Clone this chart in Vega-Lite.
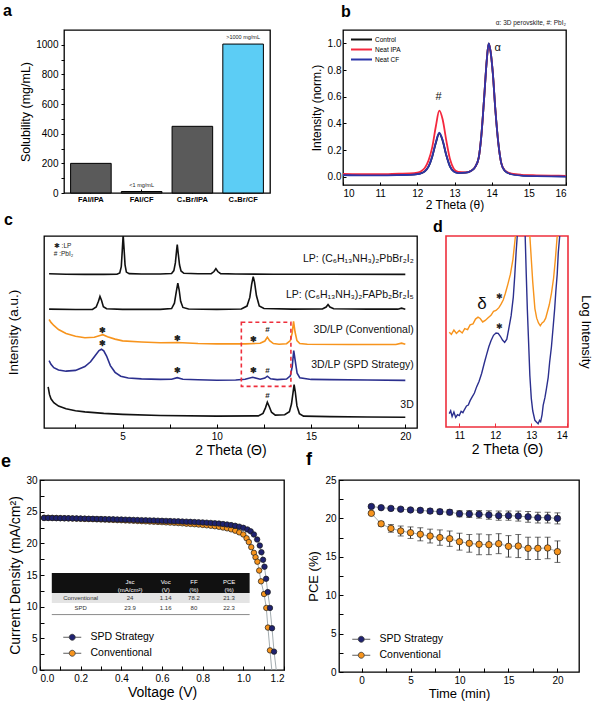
{
"$schema": "https://vega.github.io/schema/vega-lite/v6.json",
"background": "white",
"padding": {"left": 0, "top": 1, "right": 0, "bottom": 0},
"config": {
  "font": "Liberation Sans",
  "view": {"stroke": "#000", "strokeWidth": 1.3},
  "axis": {"domain": false, "grid": false, "tickColor": "#000", "tickSize": 3, "tickWidth": 1, "labelColor": "#000", "titleColor": "#000", "labelFontSize": 10, "titleFontSize": 13, "titleFontWeight": "normal", "labelPadding": 2, "titlePadding": 3, "labelFont": "Liberation Sans", "titleFont": "Liberation Sans", "labelOverlap": false},
  "title": {"fontSize": 16, "fontWeight": "bold", "anchor": "start", "frame": "group", "baseline": "alphabetic", "color": "#000"},
  "legend": {"labelFont": "Liberation Sans", "labelColor": "#000"}
},
"datasets": {
  "sol": [
    {"system": "FAI/IPA", "solubility": 200, "note": ""},
    {"system": "FAI/CF", "solubility": 10, "note": "<1 mg/mL"},
    {"system": "C₆Br/IPA", "solubility": 450, "note": ""},
    {"system": "C₆Br/CF", "solubility": 1005, "note": ">1000 mg/mL"}
  ],
  "xrdB": [
    {"sample": "Control", "theta": 10.0, "intensity": 0.014}, {"sample": "Control", "theta": 10.5, "intensity": 0.013}, {"sample": "Control", "theta": 11.0, "intensity": 0.012}, {"sample": "Control", "theta": 11.5, "intensity": 0.014}, {"sample": "Control", "theta": 11.8, "intensity": 0.016}, {"sample": "Control", "theta": 12.0, "intensity": 0.02}, {"sample": "Control", "theta": 12.1, "intensity": 0.026}, {"sample": "Control", "theta": 12.2, "intensity": 0.04}, {"sample": "Control", "theta": 12.3, "intensity": 0.075}, {"sample": "Control", "theta": 12.4, "intensity": 0.15}, {"sample": "Control", "theta": 12.5, "intensity": 0.255}, {"sample": "Control", "theta": 12.59, "intensity": 0.325}, {"sample": "Control", "theta": 12.68, "intensity": 0.27}, {"sample": "Control", "theta": 12.78, "intensity": 0.16}, {"sample": "Control", "theta": 12.88, "intensity": 0.075}, {"sample": "Control", "theta": 12.98, "intensity": 0.04}, {"sample": "Control", "theta": 13.1, "intensity": 0.028}, {"sample": "Control", "theta": 13.3, "intensity": 0.03}, {"sample": "Control", "theta": 13.45, "intensity": 0.045}, {"sample": "Control", "theta": 13.55, "intensity": 0.07}, {"sample": "Control", "theta": 13.65, "intensity": 0.14}, {"sample": "Control", "theta": 13.72, "intensity": 0.3}, {"sample": "Control", "theta": 13.8, "intensity": 0.6}, {"sample": "Control", "theta": 13.87, "intensity": 0.88}, {"sample": "Control", "theta": 13.92, "intensity": 1.0}, {"sample": "Control", "theta": 13.97, "intensity": 0.94}, {"sample": "Control", "theta": 14.03, "intensity": 0.78}, {"sample": "Control", "theta": 14.1, "intensity": 0.5}, {"sample": "Control", "theta": 14.18, "intensity": 0.25}, {"sample": "Control", "theta": 14.26, "intensity": 0.1}, {"sample": "Control", "theta": 14.35, "intensity": 0.045}, {"sample": "Control", "theta": 14.5, "intensity": 0.022}, {"sample": "Control", "theta": 14.8, "intensity": 0.01}, {"sample": "Control", "theta": 15.2, "intensity": 0.006}, {"sample": "Control", "theta": 15.6, "intensity": 0.004}, {"sample": "Control", "theta": 16.0, "intensity": 0.003},
    {"sample": "Neat IPA", "theta": 10.0, "intensity": 0.02}, {"sample": "Neat IPA", "theta": 10.5, "intensity": 0.019}, {"sample": "Neat IPA", "theta": 11.0, "intensity": 0.018}, {"sample": "Neat IPA", "theta": 11.5, "intensity": 0.022}, {"sample": "Neat IPA", "theta": 11.8, "intensity": 0.024}, {"sample": "Neat IPA", "theta": 12.0, "intensity": 0.03}, {"sample": "Neat IPA", "theta": 12.1, "intensity": 0.04}, {"sample": "Neat IPA", "theta": 12.2, "intensity": 0.065}, {"sample": "Neat IPA", "theta": 12.3, "intensity": 0.12}, {"sample": "Neat IPA", "theta": 12.4, "intensity": 0.22}, {"sample": "Neat IPA", "theta": 12.5, "intensity": 0.38}, {"sample": "Neat IPA", "theta": 12.59, "intensity": 0.495}, {"sample": "Neat IPA", "theta": 12.68, "intensity": 0.43}, {"sample": "Neat IPA", "theta": 12.78, "intensity": 0.27}, {"sample": "Neat IPA", "theta": 12.88, "intensity": 0.13}, {"sample": "Neat IPA", "theta": 12.98, "intensity": 0.06}, {"sample": "Neat IPA", "theta": 13.1, "intensity": 0.035}, {"sample": "Neat IPA", "theta": 13.3, "intensity": 0.032}, {"sample": "Neat IPA", "theta": 13.45, "intensity": 0.045}, {"sample": "Neat IPA", "theta": 13.55, "intensity": 0.07}, {"sample": "Neat IPA", "theta": 13.65, "intensity": 0.14}, {"sample": "Neat IPA", "theta": 13.72, "intensity": 0.3}, {"sample": "Neat IPA", "theta": 13.8, "intensity": 0.6}, {"sample": "Neat IPA", "theta": 13.87, "intensity": 0.88}, {"sample": "Neat IPA", "theta": 13.92, "intensity": 0.995}, {"sample": "Neat IPA", "theta": 13.97, "intensity": 0.94}, {"sample": "Neat IPA", "theta": 14.03, "intensity": 0.78}, {"sample": "Neat IPA", "theta": 14.1, "intensity": 0.5}, {"sample": "Neat IPA", "theta": 14.18, "intensity": 0.25}, {"sample": "Neat IPA", "theta": 14.26, "intensity": 0.1}, {"sample": "Neat IPA", "theta": 14.35, "intensity": 0.048}, {"sample": "Neat IPA", "theta": 14.5, "intensity": 0.025}, {"sample": "Neat IPA", "theta": 14.8, "intensity": 0.014}, {"sample": "Neat IPA", "theta": 15.2, "intensity": 0.01}, {"sample": "Neat IPA", "theta": 15.6, "intensity": 0.008}, {"sample": "Neat IPA", "theta": 16.0, "intensity": 0.006},
    {"sample": "Neat CF", "theta": 10.0, "intensity": 0.011}, {"sample": "Neat CF", "theta": 10.5, "intensity": 0.01}, {"sample": "Neat CF", "theta": 11.0, "intensity": 0.01}, {"sample": "Neat CF", "theta": 11.5, "intensity": 0.012}, {"sample": "Neat CF", "theta": 11.8, "intensity": 0.014}, {"sample": "Neat CF", "theta": 12.0, "intensity": 0.019}, {"sample": "Neat CF", "theta": 12.1, "intensity": 0.025}, {"sample": "Neat CF", "theta": 12.2, "intensity": 0.04}, {"sample": "Neat CF", "theta": 12.3, "intensity": 0.075}, {"sample": "Neat CF", "theta": 12.4, "intensity": 0.15}, {"sample": "Neat CF", "theta": 12.5, "intensity": 0.26}, {"sample": "Neat CF", "theta": 12.59, "intensity": 0.33}, {"sample": "Neat CF", "theta": 12.68, "intensity": 0.275}, {"sample": "Neat CF", "theta": 12.78, "intensity": 0.16}, {"sample": "Neat CF", "theta": 12.88, "intensity": 0.075}, {"sample": "Neat CF", "theta": 12.98, "intensity": 0.038}, {"sample": "Neat CF", "theta": 13.1, "intensity": 0.027}, {"sample": "Neat CF", "theta": 13.3, "intensity": 0.03}, {"sample": "Neat CF", "theta": 13.45, "intensity": 0.045}, {"sample": "Neat CF", "theta": 13.55, "intensity": 0.07}, {"sample": "Neat CF", "theta": 13.65, "intensity": 0.14}, {"sample": "Neat CF", "theta": 13.72, "intensity": 0.3}, {"sample": "Neat CF", "theta": 13.8, "intensity": 0.6}, {"sample": "Neat CF", "theta": 13.87, "intensity": 0.88}, {"sample": "Neat CF", "theta": 13.92, "intensity": 1.0}, {"sample": "Neat CF", "theta": 13.97, "intensity": 0.94}, {"sample": "Neat CF", "theta": 14.03, "intensity": 0.78}, {"sample": "Neat CF", "theta": 14.1, "intensity": 0.5}, {"sample": "Neat CF", "theta": 14.18, "intensity": 0.25}, {"sample": "Neat CF", "theta": 14.26, "intensity": 0.1}, {"sample": "Neat CF", "theta": 14.35, "intensity": 0.045}, {"sample": "Neat CF", "theta": 14.5, "intensity": 0.02}, {"sample": "Neat CF", "theta": 14.8, "intensity": 0.008}, {"sample": "Neat CF", "theta": 15.2, "intensity": 0.004}, {"sample": "Neat CF", "theta": 15.6, "intensity": 0.002}, {"sample": "Neat CF", "theta": 16.0, "intensity": 0.001}
  ],
  "annB": [
    {"theta": 12.57, "intensity": 0.6, "mark": "#"},
    {"theta": 14.16, "intensity": 0.963, "mark": "α"}
  ],
  "xrdC": [
    {"pattern": "LP1", "theta": 1.1, "intensity": 80.3}, {"pattern": "LP1", "theta": 2.0, "intensity": 80.1}, {"pattern": "LP1", "theta": 3.0, "intensity": 80.0}, {"pattern": "LP1", "theta": 4.0, "intensity": 80.0}, {"pattern": "LP1", "theta": 4.7, "intensity": 80.1}, {"pattern": "LP1", "theta": 4.85, "intensity": 80.8}, {"pattern": "LP1", "theta": 4.93, "intensity": 84}, {"pattern": "LP1", "theta": 4.98, "intensity": 92}, {"pattern": "LP1", "theta": 5.03, "intensity": 100.5}, {"pattern": "LP1", "theta": 5.08, "intensity": 93}, {"pattern": "LP1", "theta": 5.13, "intensity": 85}, {"pattern": "LP1", "theta": 5.2, "intensity": 81.2}, {"pattern": "LP1", "theta": 5.35, "intensity": 80.4}, {"pattern": "LP1", "theta": 6.0, "intensity": 80.2}, {"pattern": "LP1", "theta": 7.0, "intensity": 80.2}, {"pattern": "LP1", "theta": 7.6, "intensity": 80.5}, {"pattern": "LP1", "theta": 7.72, "intensity": 82}, {"pattern": "LP1", "theta": 7.8, "intensity": 86}, {"pattern": "LP1", "theta": 7.86, "intensity": 92}, {"pattern": "LP1", "theta": 7.9, "intensity": 95.5}, {"pattern": "LP1", "theta": 7.95, "intensity": 91}, {"pattern": "LP1", "theta": 8.02, "intensity": 85}, {"pattern": "LP1", "theta": 8.1, "intensity": 81.8}, {"pattern": "LP1", "theta": 8.25, "intensity": 80.6}, {"pattern": "LP1", "theta": 9.0, "intensity": 80.3}, {"pattern": "LP1", "theta": 9.7, "intensity": 80.4}, {"pattern": "LP1", "theta": 9.85, "intensity": 81.5}, {"pattern": "LP1", "theta": 9.95, "intensity": 83}, {"pattern": "LP1", "theta": 10.05, "intensity": 81.5}, {"pattern": "LP1", "theta": 10.2, "intensity": 80.4}, {"pattern": "LP1", "theta": 11.0, "intensity": 80.2}, {"pattern": "LP1", "theta": 13.0, "intensity": 80.1}, {"pattern": "LP1", "theta": 16.0, "intensity": 80.1}, {"pattern": "LP1", "theta": 20.0, "intensity": 80.0},
    {"pattern": "LP2", "theta": 1.1, "intensity": 61.9}, {"pattern": "LP2", "theta": 2.5, "intensity": 61.7}, {"pattern": "LP2", "theta": 3.4, "intensity": 61.8}, {"pattern": "LP2", "theta": 3.6, "intensity": 63}, {"pattern": "LP2", "theta": 3.72, "intensity": 66}, {"pattern": "LP2", "theta": 3.8, "intensity": 68.5}, {"pattern": "LP2", "theta": 3.88, "intensity": 66.5}, {"pattern": "LP2", "theta": 3.98, "intensity": 63.2}, {"pattern": "LP2", "theta": 4.15, "intensity": 62.1}, {"pattern": "LP2", "theta": 5.0, "intensity": 61.8}, {"pattern": "LP2", "theta": 7.0, "intensity": 61.8}, {"pattern": "LP2", "theta": 7.6, "intensity": 62.2}, {"pattern": "LP2", "theta": 7.75, "intensity": 65}, {"pattern": "LP2", "theta": 7.85, "intensity": 71}, {"pattern": "LP2", "theta": 7.93, "intensity": 75.5}, {"pattern": "LP2", "theta": 8.0, "intensity": 72}, {"pattern": "LP2", "theta": 8.08, "intensity": 66}, {"pattern": "LP2", "theta": 8.2, "intensity": 62.8}, {"pattern": "LP2", "theta": 8.5, "intensity": 62}, {"pattern": "LP2", "theta": 10.0, "intensity": 61.8}, {"pattern": "LP2", "theta": 11.3, "intensity": 62}, {"pattern": "LP2", "theta": 11.6, "intensity": 63.5}, {"pattern": "LP2", "theta": 11.75, "intensity": 68}, {"pattern": "LP2", "theta": 11.85, "intensity": 75}, {"pattern": "LP2", "theta": 11.93, "intensity": 78.8}, {"pattern": "LP2", "theta": 12.0, "intensity": 76}, {"pattern": "LP2", "theta": 12.1, "intensity": 69}, {"pattern": "LP2", "theta": 12.25, "intensity": 63.5}, {"pattern": "LP2", "theta": 12.5, "intensity": 62.2}, {"pattern": "LP2", "theta": 14.0, "intensity": 61.9}, {"pattern": "LP2", "theta": 15.6, "intensity": 62}, {"pattern": "LP2", "theta": 15.8, "intensity": 63}, {"pattern": "LP2", "theta": 15.9, "intensity": 64.3}, {"pattern": "LP2", "theta": 16.0, "intensity": 63}, {"pattern": "LP2", "theta": 16.2, "intensity": 62.1}, {"pattern": "LP2", "theta": 18.0, "intensity": 61.9}, {"pattern": "LP2", "theta": 19.6, "intensity": 61.9}, {"pattern": "LP2", "theta": 19.8, "intensity": 62.4}, {"pattern": "LP2", "theta": 20.0, "intensity": 61.9},
    {"pattern": "Conventional", "theta": 1.1, "intensity": 56.5}, {"pattern": "Conventional", "theta": 1.2, "intensity": 55}, {"pattern": "Conventional", "theta": 1.35, "intensity": 53.4}, {"pattern": "Conventional", "theta": 1.6, "intensity": 51.3}, {"pattern": "Conventional", "theta": 2.0, "intensity": 49.2}, {"pattern": "Conventional", "theta": 2.5, "intensity": 47.8}, {"pattern": "Conventional", "theta": 3.0, "intensity": 47.0}, {"pattern": "Conventional", "theta": 3.5, "intensity": 47.3}, {"pattern": "Conventional", "theta": 3.8, "intensity": 48.2}, {"pattern": "Conventional", "theta": 3.95, "intensity": 48.6}, {"pattern": "Conventional", "theta": 4.2, "intensity": 47.5}, {"pattern": "Conventional", "theta": 4.6, "intensity": 46.3}, {"pattern": "Conventional", "theta": 5.0, "intensity": 45.4}, {"pattern": "Conventional", "theta": 6.0, "intensity": 44.8}, {"pattern": "Conventional", "theta": 7.0, "intensity": 44.4}, {"pattern": "Conventional", "theta": 7.9, "intensity": 44.5}, {"pattern": "Conventional", "theta": 9.0, "intensity": 44.0}, {"pattern": "Conventional", "theta": 10.0, "intensity": 43.8}, {"pattern": "Conventional", "theta": 11.5, "intensity": 43.8}, {"pattern": "Conventional", "theta": 12.3, "intensity": 44.1}, {"pattern": "Conventional", "theta": 12.55, "intensity": 45.3}, {"pattern": "Conventional", "theta": 12.68, "intensity": 47.3}, {"pattern": "Conventional", "theta": 12.8, "intensity": 45.5}, {"pattern": "Conventional", "theta": 13.0, "intensity": 44.0}, {"pattern": "Conventional", "theta": 13.3, "intensity": 43.6}, {"pattern": "Conventional", "theta": 13.7, "intensity": 43.9}, {"pattern": "Conventional", "theta": 13.9, "intensity": 45.5}, {"pattern": "Conventional", "theta": 14.0, "intensity": 49.5}, {"pattern": "Conventional", "theta": 14.07, "intensity": 55.5}, {"pattern": "Conventional", "theta": 14.15, "intensity": 50}, {"pattern": "Conventional", "theta": 14.25, "intensity": 45.5}, {"pattern": "Conventional", "theta": 14.4, "intensity": 44}, {"pattern": "Conventional", "theta": 14.8, "intensity": 43.6}, {"pattern": "Conventional", "theta": 17.0, "intensity": 43.5}, {"pattern": "Conventional", "theta": 19.5, "intensity": 43.5}, {"pattern": "Conventional", "theta": 19.8, "intensity": 44.2}, {"pattern": "Conventional", "theta": 20.0, "intensity": 43.6},
    {"pattern": "SPD", "theta": 1.1, "intensity": 35.1}, {"pattern": "SPD", "theta": 1.2, "intensity": 33.2}, {"pattern": "SPD", "theta": 1.35, "intensity": 31.4}, {"pattern": "SPD", "theta": 1.6, "intensity": 30.2}, {"pattern": "SPD", "theta": 2.0, "intensity": 29.6}, {"pattern": "SPD", "theta": 2.5, "intensity": 30.0}, {"pattern": "SPD", "theta": 3.0, "intensity": 32.0}, {"pattern": "SPD", "theta": 3.3, "intensity": 34.5}, {"pattern": "SPD", "theta": 3.55, "intensity": 37.8}, {"pattern": "SPD", "theta": 3.75, "intensity": 40.3}, {"pattern": "SPD", "theta": 3.88, "intensity": 41.0}, {"pattern": "SPD", "theta": 4.0, "intensity": 40.2}, {"pattern": "SPD", "theta": 4.15, "intensity": 37.5}, {"pattern": "SPD", "theta": 4.35, "intensity": 32.5}, {"pattern": "SPD", "theta": 4.6, "intensity": 29.0}, {"pattern": "SPD", "theta": 4.9, "intensity": 27.0}, {"pattern": "SPD", "theta": 5.3, "intensity": 26.0}, {"pattern": "SPD", "theta": 6.0, "intensity": 25.6}, {"pattern": "SPD", "theta": 7.0, "intensity": 25.3}, {"pattern": "SPD", "theta": 7.6, "intensity": 25.4}, {"pattern": "SPD", "theta": 7.9, "intensity": 26.2}, {"pattern": "SPD", "theta": 8.2, "intensity": 25.4}, {"pattern": "SPD", "theta": 9.0, "intensity": 25.1}, {"pattern": "SPD", "theta": 10.0, "intensity": 24.9}, {"pattern": "SPD", "theta": 11.0, "intensity": 25.0}, {"pattern": "SPD", "theta": 11.5, "intensity": 25.4}, {"pattern": "SPD", "theta": 11.9, "intensity": 26.4}, {"pattern": "SPD", "theta": 12.3, "intensity": 25.4}, {"pattern": "SPD", "theta": 12.55, "intensity": 26.0}, {"pattern": "SPD", "theta": 12.68, "intensity": 27.0}, {"pattern": "SPD", "theta": 12.85, "intensity": 25.6}, {"pattern": "SPD", "theta": 13.2, "intensity": 25.2}, {"pattern": "SPD", "theta": 13.7, "intensity": 25.5}, {"pattern": "SPD", "theta": 13.9, "intensity": 27.2}, {"pattern": "SPD", "theta": 14.0, "intensity": 32}, {"pattern": "SPD", "theta": 14.08, "intensity": 40.3}, {"pattern": "SPD", "theta": 14.16, "intensity": 35}, {"pattern": "SPD", "theta": 14.26, "intensity": 28.5}, {"pattern": "SPD", "theta": 14.4, "intensity": 26.2}, {"pattern": "SPD", "theta": 15.0, "intensity": 25.3}, {"pattern": "SPD", "theta": 16.0, "intensity": 25.2}, {"pattern": "SPD", "theta": 18.0, "intensity": 25.0}, {"pattern": "SPD", "theta": 20.0, "intensity": 24.8},
    {"pattern": "3D", "theta": 1.05, "intensity": 21.4}, {"pattern": "3D", "theta": 1.12, "intensity": 17.5}, {"pattern": "3D", "theta": 1.2, "intensity": 15.2}, {"pattern": "3D", "theta": 1.35, "intensity": 13.2}, {"pattern": "3D", "theta": 1.6, "intensity": 11.4}, {"pattern": "3D", "theta": 2.0, "intensity": 10.0}, {"pattern": "3D", "theta": 2.5, "intensity": 9.0}, {"pattern": "3D", "theta": 3.0, "intensity": 8.4}, {"pattern": "3D", "theta": 4.0, "intensity": 7.6}, {"pattern": "3D", "theta": 5.0, "intensity": 7.1}, {"pattern": "3D", "theta": 7.0, "intensity": 6.5}, {"pattern": "3D", "theta": 10.0, "intensity": 6.2}, {"pattern": "3D", "theta": 12.2, "intensity": 6.3}, {"pattern": "3D", "theta": 12.45, "intensity": 7.6}, {"pattern": "3D", "theta": 12.58, "intensity": 10.5}, {"pattern": "3D", "theta": 12.68, "intensity": 13.4}, {"pattern": "3D", "theta": 12.78, "intensity": 11.2}, {"pattern": "3D", "theta": 12.9, "intensity": 8.2}, {"pattern": "3D", "theta": 13.1, "intensity": 6.7}, {"pattern": "3D", "theta": 13.6, "intensity": 6.9}, {"pattern": "3D", "theta": 13.85, "intensity": 8.5}, {"pattern": "3D", "theta": 13.96, "intensity": 12.5}, {"pattern": "3D", "theta": 14.05, "intensity": 19}, {"pattern": "3D", "theta": 14.1, "intensity": 22.6}, {"pattern": "3D", "theta": 14.16, "intensity": 19}, {"pattern": "3D", "theta": 14.25, "intensity": 11.5}, {"pattern": "3D", "theta": 14.38, "intensity": 7.5}, {"pattern": "3D", "theta": 14.6, "intensity": 6.2}, {"pattern": "3D", "theta": 16.0, "intensity": 5.9}, {"pattern": "3D", "theta": 18.0, "intensity": 5.7}, {"pattern": "3D", "theta": 20.0, "intensity": 5.6}
  ],
  "peaksC": [
    {"theta": 3.94, "intensity": 50.4, "mark": "✱"}, {"theta": 7.93, "intensity": 46.4, "mark": "✱"}, {"theta": 11.93, "intensity": 45.6, "mark": "✱"}, {"theta": 12.68, "intensity": 51, "mark": "#"},
    {"theta": 3.94, "intensity": 43.5, "mark": "✱"}, {"theta": 7.93, "intensity": 29.9, "mark": "✱"}, {"theta": 11.93, "intensity": 29.6, "mark": "✱"}, {"theta": 12.68, "intensity": 29.6, "mark": "#"},
    {"theta": 12.68, "intensity": 16.9, "mark": "#"}
  ],
  "labelsC": [
    {"label": "LP: (C₆H₁₃NH₃)₂PbBr₂I₂", "intensity": 87.8},
    {"label": "LP: (C₆H₁₃NH₃)₂FAPb₂Br₂I₅", "intensity": 69.2},
    {"label": "3D/LP (Conventional)", "intensity": 51.3},
    {"label": "3D/LP (SPD Strategy)", "intensity": 33},
    {"label": "3D", "intensity": 12.2}
  ],
  "xrdD": [
    {"pattern": "Conventional", "theta": 10.72, "intensity": 49.6}, {"pattern": "Conventional", "theta": 10.78, "intensity": 48.5}, {"pattern": "Conventional", "theta": 10.85, "intensity": 50.8}, {"pattern": "Conventional", "theta": 10.92, "intensity": 49.0}, {"pattern": "Conventional", "theta": 11.0, "intensity": 50.5}, {"pattern": "Conventional", "theta": 11.08, "intensity": 49.2}, {"pattern": "Conventional", "theta": 11.15, "intensity": 51.5}, {"pattern": "Conventional", "theta": 11.23, "intensity": 51.0}, {"pattern": "Conventional", "theta": 11.3, "intensity": 53.5}, {"pattern": "Conventional", "theta": 11.38, "intensity": 54.0}, {"pattern": "Conventional", "theta": 11.45, "intensity": 56.5}, {"pattern": "Conventional", "theta": 11.52, "intensity": 57.5}, {"pattern": "Conventional", "theta": 11.58, "intensity": 56.8}, {"pattern": "Conventional", "theta": 11.65, "intensity": 55.0}, {"pattern": "Conventional", "theta": 11.72, "intensity": 55.8}, {"pattern": "Conventional", "theta": 11.8, "intensity": 57.2}, {"pattern": "Conventional", "theta": 11.88, "intensity": 58.5}, {"pattern": "Conventional", "theta": 11.95, "intensity": 60.5}, {"pattern": "Conventional", "theta": 12.02, "intensity": 61.0}, {"pattern": "Conventional", "theta": 12.1, "intensity": 62.5}, {"pattern": "Conventional", "theta": 12.16, "intensity": 64.3}, {"pattern": "Conventional", "theta": 12.22, "intensity": 66.5}, {"pattern": "Conventional", "theta": 12.28, "intensity": 70}, {"pattern": "Conventional", "theta": 12.35, "intensity": 74.8}, {"pattern": "Conventional", "theta": 12.42, "intensity": 80}, {"pattern": "Conventional", "theta": 12.49, "intensity": 87.8}, {"pattern": "Conventional", "theta": 12.56, "intensity": 100}, {"pattern": "Conventional", "theta": 12.6, "intensity": 110}, {"pattern": "Conventional", "theta": 12.9, "intensity": 110}, {"pattern": "Conventional", "theta": 12.96, "intensity": 100}, {"pattern": "Conventional", "theta": 13.0, "intensity": 88}, {"pattern": "Conventional", "theta": 13.04, "intensity": 76}, {"pattern": "Conventional", "theta": 13.1, "intensity": 62}, {"pattern": "Conventional", "theta": 13.15, "intensity": 57}, {"pattern": "Conventional", "theta": 13.2, "intensity": 54.5}, {"pattern": "Conventional", "theta": 13.25, "intensity": 53}, {"pattern": "Conventional", "theta": 13.3, "intensity": 54.5}, {"pattern": "Conventional", "theta": 13.35, "intensity": 55.2}, {"pattern": "Conventional", "theta": 13.4, "intensity": 57}, {"pattern": "Conventional", "theta": 13.45, "intensity": 60.5}, {"pattern": "Conventional", "theta": 13.5, "intensity": 64}, {"pattern": "Conventional", "theta": 13.56, "intensity": 70}, {"pattern": "Conventional", "theta": 13.62, "intensity": 78}, {"pattern": "Conventional", "theta": 13.67, "intensity": 88}, {"pattern": "Conventional", "theta": 13.72, "intensity": 100}, {"pattern": "Conventional", "theta": 13.75, "intensity": 110},
    {"pattern": "SPD", "theta": 10.72, "intensity": 7.0}, {"pattern": "SPD", "theta": 10.76, "intensity": 8.5}, {"pattern": "SPD", "theta": 10.8, "intensity": 5.5}, {"pattern": "SPD", "theta": 10.85, "intensity": 7.8}, {"pattern": "SPD", "theta": 10.9, "intensity": 5.0}, {"pattern": "SPD", "theta": 10.95, "intensity": 6.5}, {"pattern": "SPD", "theta": 11.0, "intensity": 6.0}, {"pattern": "SPD", "theta": 11.05, "intensity": 8.2}, {"pattern": "SPD", "theta": 11.1, "intensity": 7.5}, {"pattern": "SPD", "theta": 11.14, "intensity": 9.0}, {"pattern": "SPD", "theta": 11.2, "intensity": 11.0}, {"pattern": "SPD", "theta": 11.25, "intensity": 11.5}, {"pattern": "SPD", "theta": 11.3, "intensity": 13.8}, {"pattern": "SPD", "theta": 11.35, "intensity": 15.5}, {"pattern": "SPD", "theta": 11.42, "intensity": 17.8}, {"pattern": "SPD", "theta": 11.48, "intensity": 21}, {"pattern": "SPD", "theta": 11.55, "intensity": 24}, {"pattern": "SPD", "theta": 11.62, "intensity": 28}, {"pattern": "SPD", "theta": 11.7, "intensity": 33.9}, {"pattern": "SPD", "theta": 11.76, "intensity": 38}, {"pattern": "SPD", "theta": 11.82, "intensity": 42}, {"pattern": "SPD", "theta": 11.88, "intensity": 45.2}, {"pattern": "SPD", "theta": 11.95, "intensity": 48}, {"pattern": "SPD", "theta": 12.02, "intensity": 49.2}, {"pattern": "SPD", "theta": 12.08, "intensity": 49}, {"pattern": "SPD", "theta": 12.14, "intensity": 47.5}, {"pattern": "SPD", "theta": 12.2, "intensity": 45.5}, {"pattern": "SPD", "theta": 12.26, "intensity": 44.3}, {"pattern": "SPD", "theta": 12.32, "intensity": 46}, {"pattern": "SPD", "theta": 12.38, "intensity": 52}, {"pattern": "SPD", "theta": 12.44, "intensity": 58.3}, {"pattern": "SPD", "theta": 12.5, "intensity": 68}, {"pattern": "SPD", "theta": 12.54, "intensity": 79.1}, {"pattern": "SPD", "theta": 12.58, "intensity": 92}, {"pattern": "SPD", "theta": 12.61, "intensity": 100}, {"pattern": "SPD", "theta": 12.65, "intensity": 110}, {"pattern": "SPD", "theta": 12.8, "intensity": 110}, {"pattern": "SPD", "theta": 12.83, "intensity": 100}, {"pattern": "SPD", "theta": 12.86, "intensity": 80}, {"pattern": "SPD", "theta": 12.89, "intensity": 61.7}, {"pattern": "SPD", "theta": 12.93, "intensity": 42}, {"pattern": "SPD", "theta": 12.96, "intensity": 27}, {"pattern": "SPD", "theta": 13.0, "intensity": 15}, {"pattern": "SPD", "theta": 13.04, "intensity": 8.5}, {"pattern": "SPD", "theta": 13.1, "intensity": 3.5}, {"pattern": "SPD", "theta": 13.15, "intensity": 2.5}, {"pattern": "SPD", "theta": 13.19, "intensity": 1.7}, {"pattern": "SPD", "theta": 13.23, "intensity": 3.5}, {"pattern": "SPD", "theta": 13.26, "intensity": 2.8}, {"pattern": "SPD", "theta": 13.3, "intensity": 6.5}, {"pattern": "SPD", "theta": 13.33, "intensity": 11.3}, {"pattern": "SPD", "theta": 13.38, "intensity": 15.5}, {"pattern": "SPD", "theta": 13.42, "intensity": 20}, {"pattern": "SPD", "theta": 13.47, "intensity": 26}, {"pattern": "SPD", "theta": 13.51, "intensity": 33.9}, {"pattern": "SPD", "theta": 13.56, "intensity": 42}, {"pattern": "SPD", "theta": 13.61, "intensity": 53}, {"pattern": "SPD", "theta": 13.65, "intensity": 62}, {"pattern": "SPD", "theta": 13.68, "intensity": 70.4}, {"pattern": "SPD", "theta": 13.72, "intensity": 80}, {"pattern": "SPD", "theta": 13.75, "intensity": 91.3}, {"pattern": "SPD", "theta": 13.79, "intensity": 100}, {"pattern": "SPD", "theta": 13.82, "intensity": 110}
  ],
  "annD": [
    {"theta": 11.63, "intensity": 64.4, "mark": "δ"},
    {"theta": 12.12, "intensity": 68.3, "mark": "✱"},
    {"theta": 12.12, "intensity": 52.2, "mark": "✱"}
  ],
  "jv": [
    {"device": "Conventional", "voltage": 0.02, "current": 24.05}, {"device": "Conventional", "voltage": 0.04, "current": 24.04}, {"device": "Conventional", "voltage": 0.06, "current": 24.02}, {"device": "Conventional", "voltage": 0.08, "current": 24.0}, {"device": "Conventional", "voltage": 0.1, "current": 23.98}, {"device": "Conventional", "voltage": 0.12, "current": 23.96}, {"device": "Conventional", "voltage": 0.14, "current": 23.94}, {"device": "Conventional", "voltage": 0.16, "current": 23.92}, {"device": "Conventional", "voltage": 0.18, "current": 23.9}, {"device": "Conventional", "voltage": 0.2, "current": 23.88}, {"device": "Conventional", "voltage": 0.22, "current": 23.86}, {"device": "Conventional", "voltage": 0.24, "current": 23.84}, {"device": "Conventional", "voltage": 0.26, "current": 23.82}, {"device": "Conventional", "voltage": 0.28, "current": 23.79}, {"device": "Conventional", "voltage": 0.3, "current": 23.77}, {"device": "Conventional", "voltage": 0.32, "current": 23.75}, {"device": "Conventional", "voltage": 0.34, "current": 23.72}, {"device": "Conventional", "voltage": 0.36, "current": 23.7}, {"device": "Conventional", "voltage": 0.38, "current": 23.67}, {"device": "Conventional", "voltage": 0.4, "current": 23.65}, {"device": "Conventional", "voltage": 0.42, "current": 23.62}, {"device": "Conventional", "voltage": 0.44, "current": 23.59}, {"device": "Conventional", "voltage": 0.46, "current": 23.56}, {"device": "Conventional", "voltage": 0.48, "current": 23.53}, {"device": "Conventional", "voltage": 0.5, "current": 23.5}, {"device": "Conventional", "voltage": 0.52, "current": 23.47}, {"device": "Conventional", "voltage": 0.54, "current": 23.44}, {"device": "Conventional", "voltage": 0.56, "current": 23.41}, {"device": "Conventional", "voltage": 0.58, "current": 23.38}, {"device": "Conventional", "voltage": 0.6, "current": 23.35}, {"device": "Conventional", "voltage": 0.62, "current": 23.31}, {"device": "Conventional", "voltage": 0.64, "current": 23.28}, {"device": "Conventional", "voltage": 0.66, "current": 23.24}, {"device": "Conventional", "voltage": 0.68, "current": 23.2}, {"device": "Conventional", "voltage": 0.7, "current": 23.16}, {"device": "Conventional", "voltage": 0.72, "current": 23.11}, {"device": "Conventional", "voltage": 0.74, "current": 23.07}, {"device": "Conventional", "voltage": 0.76, "current": 23.02}, {"device": "Conventional", "voltage": 0.78, "current": 22.97}, {"device": "Conventional", "voltage": 0.8, "current": 22.91}, {"device": "Conventional", "voltage": 0.82, "current": 22.85}, {"device": "Conventional", "voltage": 0.84, "current": 22.78}, {"device": "Conventional", "voltage": 0.86, "current": 22.7}, {"device": "Conventional", "voltage": 0.88, "current": 22.61}, {"device": "Conventional", "voltage": 0.9, "current": 22.5}, {"device": "Conventional", "voltage": 0.92, "current": 22.37}, {"device": "Conventional", "voltage": 0.94, "current": 22.21}, {"device": "Conventional", "voltage": 0.96, "current": 22.0}, {"device": "Conventional", "voltage": 0.98, "current": 21.73}, {"device": "Conventional", "voltage": 1.0, "current": 21.4}, {"device": "Conventional", "voltage": 1.016, "current": 20.8}, {"device": "Conventional", "voltage": 1.027, "current": 20.2}, {"device": "Conventional", "voltage": 1.039, "current": 19.4}, {"device": "Conventional", "voltage": 1.052, "current": 18.5}, {"device": "Conventional", "voltage": 1.06, "current": 17.8}, {"device": "Conventional", "voltage": 1.069, "current": 17.1}, {"device": "Conventional", "voltage": 1.078, "current": 15.7}, {"device": "Conventional", "voltage": 1.087, "current": 14.0}, {"device": "Conventional", "voltage": 1.102, "current": 12.0}, {"device": "Conventional", "voltage": 1.113, "current": 9.8}, {"device": "Conventional", "voltage": 1.121, "current": 6.7}, {"device": "Conventional", "voltage": 1.131, "current": 3.1}, {"device": "Conventional", "voltage": 1.14, "current": 0},
    {"device": "SPD Strategy", "voltage": 0.02, "current": 24.0}, {"device": "SPD Strategy", "voltage": 0.04, "current": 24.0}, {"device": "SPD Strategy", "voltage": 0.06, "current": 23.99}, {"device": "SPD Strategy", "voltage": 0.08, "current": 23.98}, {"device": "SPD Strategy", "voltage": 0.1, "current": 23.97}, {"device": "SPD Strategy", "voltage": 0.12, "current": 23.96}, {"device": "SPD Strategy", "voltage": 0.14, "current": 23.95}, {"device": "SPD Strategy", "voltage": 0.16, "current": 23.94}, {"device": "SPD Strategy", "voltage": 0.18, "current": 23.93}, {"device": "SPD Strategy", "voltage": 0.2, "current": 23.91}, {"device": "SPD Strategy", "voltage": 0.22, "current": 23.9}, {"device": "SPD Strategy", "voltage": 0.24, "current": 23.88}, {"device": "SPD Strategy", "voltage": 0.26, "current": 23.87}, {"device": "SPD Strategy", "voltage": 0.28, "current": 23.85}, {"device": "SPD Strategy", "voltage": 0.3, "current": 23.84}, {"device": "SPD Strategy", "voltage": 0.32, "current": 23.82}, {"device": "SPD Strategy", "voltage": 0.34, "current": 23.81}, {"device": "SPD Strategy", "voltage": 0.36, "current": 23.79}, {"device": "SPD Strategy", "voltage": 0.38, "current": 23.77}, {"device": "SPD Strategy", "voltage": 0.4, "current": 23.76}, {"device": "SPD Strategy", "voltage": 0.42, "current": 23.74}, {"device": "SPD Strategy", "voltage": 0.44, "current": 23.72}, {"device": "SPD Strategy", "voltage": 0.46, "current": 23.7}, {"device": "SPD Strategy", "voltage": 0.48, "current": 23.68}, {"device": "SPD Strategy", "voltage": 0.5, "current": 23.66}, {"device": "SPD Strategy", "voltage": 0.52, "current": 23.64}, {"device": "SPD Strategy", "voltage": 0.54, "current": 23.62}, {"device": "SPD Strategy", "voltage": 0.56, "current": 23.6}, {"device": "SPD Strategy", "voltage": 0.58, "current": 23.58}, {"device": "SPD Strategy", "voltage": 0.6, "current": 23.56}, {"device": "SPD Strategy", "voltage": 0.62, "current": 23.54}, {"device": "SPD Strategy", "voltage": 0.64, "current": 23.52}, {"device": "SPD Strategy", "voltage": 0.66, "current": 23.49}, {"device": "SPD Strategy", "voltage": 0.68, "current": 23.47}, {"device": "SPD Strategy", "voltage": 0.7, "current": 23.44}, {"device": "SPD Strategy", "voltage": 0.72, "current": 23.42}, {"device": "SPD Strategy", "voltage": 0.74, "current": 23.39}, {"device": "SPD Strategy", "voltage": 0.76, "current": 23.36}, {"device": "SPD Strategy", "voltage": 0.78, "current": 23.33}, {"device": "SPD Strategy", "voltage": 0.8, "current": 23.3}, {"device": "SPD Strategy", "voltage": 0.82, "current": 23.26}, {"device": "SPD Strategy", "voltage": 0.84, "current": 23.22}, {"device": "SPD Strategy", "voltage": 0.86, "current": 23.17}, {"device": "SPD Strategy", "voltage": 0.88, "current": 23.12}, {"device": "SPD Strategy", "voltage": 0.9, "current": 23.05}, {"device": "SPD Strategy", "voltage": 0.92, "current": 22.97}, {"device": "SPD Strategy", "voltage": 0.94, "current": 22.88}, {"device": "SPD Strategy", "voltage": 0.96, "current": 22.77}, {"device": "SPD Strategy", "voltage": 0.98, "current": 22.63}, {"device": "SPD Strategy", "voltage": 1.0, "current": 22.45}, {"device": "SPD Strategy", "voltage": 1.02, "current": 22.2}, {"device": "SPD Strategy", "voltage": 1.036, "current": 21.9}, {"device": "SPD Strategy", "voltage": 1.052, "current": 21.4}, {"device": "SPD Strategy", "voltage": 1.068, "current": 20.6}, {"device": "SPD Strategy", "voltage": 1.081, "current": 19.65}, {"device": "SPD Strategy", "voltage": 1.089, "current": 18.6}, {"device": "SPD Strategy", "voltage": 1.097, "current": 17.4}, {"device": "SPD Strategy", "voltage": 1.104, "current": 16.3}, {"device": "SPD Strategy", "voltage": 1.112, "current": 14.4}, {"device": "SPD Strategy", "voltage": 1.12, "current": 12.3}, {"device": "SPD Strategy", "voltage": 1.131, "current": 9.8}, {"device": "SPD Strategy", "voltage": 1.141, "current": 6.6}, {"device": "SPD Strategy", "voltage": 1.151, "current": 2.9}, {"device": "SPD Strategy", "voltage": 1.162, "current": 0}
  ],
  "pvTable": [
    {"device": "Conventional", "Jsc": "24", "Voc": "1.14", "FF": "78.2", "PCE": "21.3"},
    {"device": "SPD", "Jsc": "23.9", "Voc": "1.16", "FF": "80", "PCE": "22.3"}
  ],
  "stab": [
    {"device": "Conventional", "time": 1, "pce": 20.66, "err": 0.15}, {"device": "Conventional", "time": 2, "pce": 19.3, "err": 0.3}, {"device": "Conventional", "time": 3, "pce": 18.7, "err": 0.5}, {"device": "Conventional", "time": 4, "pce": 18.36, "err": 0.65}, {"device": "Conventional", "time": 5, "pce": 18.14, "err": 0.75}, {"device": "Conventional", "time": 6, "pce": 17.93, "err": 0.85}, {"device": "Conventional", "time": 7, "pce": 17.7, "err": 0.9}, {"device": "Conventional", "time": 8, "pce": 17.5, "err": 1.0}, {"device": "Conventional", "time": 9, "pce": 17.36, "err": 1.0}, {"device": "Conventional", "time": 10, "pce": 16.97, "err": 1.1}, {"device": "Conventional", "time": 11, "pce": 16.75, "err": 1.15}, {"device": "Conventional", "time": 12, "pce": 16.62, "err": 1.35}, {"device": "Conventional", "time": 13, "pce": 16.58, "err": 1.3}, {"device": "Conventional", "time": 14, "pce": 16.71, "err": 1.3}, {"device": "Conventional", "time": 15, "pce": 16.36, "err": 1.4}, {"device": "Conventional", "time": 16, "pce": 16.4, "err": 1.5}, {"device": "Conventional", "time": 17, "pce": 16.1, "err": 1.45}, {"device": "Conventional", "time": 18, "pce": 16.1, "err": 1.45}, {"device": "Conventional", "time": 19, "pce": 16.15, "err": 1.4}, {"device": "Conventional", "time": 20, "pce": 15.67, "err": 1.4},
    {"device": "SPD Strategy", "time": 1, "pce": 21.55, "err": 0.15}, {"device": "SPD Strategy", "time": 2, "pce": 21.4, "err": 0.15}, {"device": "SPD Strategy", "time": 3, "pce": 21.3, "err": 0.18}, {"device": "SPD Strategy", "time": 4, "pce": 21.2, "err": 0.2}, {"device": "SPD Strategy", "time": 5, "pce": 21.1, "err": 0.22}, {"device": "SPD Strategy", "time": 6, "pce": 21.05, "err": 0.25}, {"device": "SPD Strategy", "time": 7, "pce": 20.95, "err": 0.28}, {"device": "SPD Strategy", "time": 8, "pce": 20.88, "err": 0.3}, {"device": "SPD Strategy", "time": 9, "pce": 20.8, "err": 0.32}, {"device": "SPD Strategy", "time": 10, "pce": 20.6, "err": 0.4}, {"device": "SPD Strategy", "time": 11, "pce": 20.57, "err": 0.45}, {"device": "SPD Strategy", "time": 12, "pce": 20.53, "err": 0.5}, {"device": "SPD Strategy", "time": 13, "pce": 20.44, "err": 0.55}, {"device": "SPD Strategy", "time": 14, "pce": 20.36, "err": 0.6}, {"device": "SPD Strategy", "time": 15, "pce": 20.36, "err": 0.6}, {"device": "SPD Strategy", "time": 16, "pce": 20.3, "err": 0.65}, {"device": "SPD Strategy", "time": 17, "pce": 20.2, "err": 0.7}, {"device": "SPD Strategy", "time": 18, "pce": 20.1, "err": 0.7}, {"device": "SPD Strategy", "time": 19, "pce": 20.1, "err": 0.7}, {"device": "SPD Strategy", "time": 20, "pce": 20.0, "err": 0.72}
  ]
},
"spacing": 0,
"resolve": {"scale": {"color": "independent"}, "legend": {"color": "independent"}},
"vconcat": [
  {"hconcat": [
    {"width": 24, "height": 10, "view": {"stroke": null}, "data": {"values": []}, "mark": "point"},
    {
      "width": 206, "height": 163,
      "title": {"text": "a", "dx": -61, "offset": 11.5},
      "data": {"name": "sol"},
      "layer": [
        {"mark": {"type": "bar", "stroke": "#000", "strokeWidth": 1},
         "encoding": {
           "x": {"field": "system", "type": "nominal", "sort": null, "scale": {"paddingInner": 0.2, "paddingOuter": 0.13}, "axis": {"title": null, "labelAngle": 0, "labelFontSize": 7.5, "labelFontWeight": "bold", "tickSize": -4, "labelPadding": 6}},
           "y": {"field": "solubility", "type": "quantitative", "scale": {"domain": [0, 1100], "nice": false}, "axis": {"values": [0, 100, 200, 300, 400, 500, 600, 700, 800, 900, 1000], "tickCount": 100, "format": "d", "labelExpr": "datum.value % 200 === 0 ? datum.label : ''", "title": "Solubility (mg/mL)", "titleFontSize": 12.5, "tickSize": 3, "labelPadding": 3, "titlePadding": 3}},
           "color": {"field": "system", "type": "nominal", "scale": {"domain": ["FAI/IPA", "FAI/CF", "C₆Br/IPA", "C₆Br/CF"], "range": ["#5a5a5a", "#5a5a5a", "#5a5a5a", "#5ccdf5"]}, "legend": null}
         }},
        {"mark": {"type": "text", "dy": -7, "fontSize": 5.5, "color": "#222"},
         "encoding": {
           "x": {"field": "system", "type": "nominal", "sort": null},
           "y": {"field": "solubility", "type": "quantitative"},
           "text": {"field": "note"}
         }}
      ]
    },
    {"width": 73, "height": 10, "view": {"stroke": null}, "data": {"values": []}, "mark": "point"},
    {
      "width": 223, "height": 155,
      "title": {"text": "b", "dx": -2, "offset": 0},
      "layer": [
        {"data": {"name": "xrdB"},
         "mark": {"type": "line", "strokeWidth": 1.8, "interpolate": "monotone", "clip": true},
         "encoding": {
           "x": {"field": "theta", "type": "quantitative", "scale": {"domain": [10, 16], "nice": false, "zero": false}, "axis": {"values": [10, 11, 12, 13, 14, 15, 16], "tickCount": 100, "format": "d", "title": "2 Theta (θ)", "titleFontSize": 12, "tickSize": -3, "labelPadding": 6, "titlePadding": 1}},
           "y": {"field": "intensity", "type": "quantitative", "scale": {"domain": [-0.0625, 1.1], "nice": false, "zero": false}, "axis": {"values": [0, 0.2, 0.4, 0.6, 0.8, 1.0], "tickCount": 100, "format": ".1f", "title": "Intensity (norm.)", "titleFontSize": 12, "tickSize": -3, "labelPadding": 5, "titlePadding": 4}},
           "color": {"field": "sample", "type": "nominal", "scale": {"domain": ["Control", "Neat IPA", "Neat CF"], "range": ["#111111", "#f4283e", "#2c35a8"]},
             "legend": {"orient": "none", "legendX": 14, "legendY": 5, "title": null, "symbolType": "M-3,0H3", "symbolSize": 49, "symbolStrokeWidth": 2, "labelFontSize": 6.5, "labelOffset": 9, "rowPadding": 1}}
         }},
        {"data": {"name": "annB"},
         "mark": {"type": "text", "fontSize": 11, "color": "#111"},
         "encoding": {
           "x": {"field": "theta", "type": "quantitative"},
           "y": {"field": "intensity", "type": "quantitative"},
           "text": {"field": "mark"}
         }},
        {"data": {"values": [{}]},
         "mark": {"type": "text", "fontSize": 6.5, "align": "right", "color": "#222"},
         "encoding": {"x": {"datum": 16}, "y": {"datum": 1.152}, "text": {"value": "α: 3D perovskite, #: PbI₂"}}}
      ]
    }
  ], "spacing": 0, "bounds": "flush", "resolve": {"scale": {"color": "independent"}, "legend": {"color": "independent"}}},
  {"vconcat": [
    {"hconcat": [
      {"width": 4, "height": 10, "view": {"stroke": null}, "data": {"values": []}, "mark": "point"},
      {
        "width": 373, "height": 192,
        "title": {"text": "c", "dx": -40, "offset": 8},
        "layer": [
          {"data": {"name": "xrdC"},
           "mark": {"type": "line", "strokeWidth": 1.6, "clip": true},
           "encoding": {
             "x": {"field": "theta", "type": "quantitative", "scale": {"domain": [0.83, 20.62], "nice": false, "zero": false}, "axis": {"values": [2.5, 5, 7.5, 10, 12.5, 15, 17.5, 20], "tickCount": 100, "format": "d", "labelExpr": "datum.value % 5 === 0 ? datum.label : ''", "title": "2 Theta (Θ)", "titleFontSize": 14, "tickSize": -4, "labelPadding": 7, "titlePadding": 2}},
             "y": {"field": "intensity", "type": "quantitative", "scale": {"domain": [0, 100], "nice": false}, "axis": {"labels": false, "ticks": false, "title": "Intensity (a.u.)", "titleFontSize": 13.5, "titlePadding": 24}},
             "color": {"field": "pattern", "type": "nominal", "scale": {"domain": ["LP1", "LP2", "Conventional", "SPD", "3D"], "range": ["#111111", "#111111", "#f7941d", "#2b2f8e", "#111111"]}, "legend": null}
           }},
          {"data": {"name": "peaksC"},
           "mark": {"type": "text", "fontSize": 8, "fontWeight": "bold", "color": "#222"},
           "encoding": {
             "x": {"field": "theta", "type": "quantitative"},
             "y": {"field": "intensity", "type": "quantitative"},
             "text": {"field": "mark"}
           }},
          {"data": {"name": "labelsC"},
           "mark": {"type": "text", "fontSize": 10.5, "align": "right", "color": "#111"},
           "encoding": {
             "x": {"datum": 20.45},
             "y": {"field": "intensity", "type": "quantitative"},
             "text": {"field": "label"}
           }},
          {"data": {"values": [{}]},
           "mark": {"type": "rect", "fillOpacity": 0, "stroke": "#ee2f3c", "strokeWidth": 1.6, "strokeDash": [4, 3]},
           "encoding": {"x": {"datum": 11.3}, "x2": {"datum": 13.93}, "y": {"datum": 21.7}, "y2": {"datum": 55.1}}},
          {"data": {"values": [{}]},
           "mark": {"type": "text", "fontSize": 6.5, "align": "left", "color": "#222"},
           "encoding": {"x": {"datum": 1.35}, "y": {"datum": 95}, "text": {"value": "✱ :LP"}}},
          {"data": {"values": [{}]},
           "mark": {"type": "text", "fontSize": 6.5, "align": "left", "color": "#222"},
           "encoding": {"x": {"datum": 1.35}, "y": {"datum": 90.4}, "text": {"value": "# :PbI₂"}}}
        ]
      },
      {"width": 29, "height": 10, "view": {"stroke": null}, "data": {"values": []}, "mark": "point"},
      {
        "width": 122, "height": 191,
        "view": {"stroke": "#ee2f3c", "strokeWidth": 1.6},
        "title": {"text": "d", "dx": -13, "offset": 1},
        "layer": [
          {"data": {"name": "xrdD"},
           "mark": {"type": "line", "strokeWidth": 1.4, "clip": true},
           "encoding": {
             "x": {"field": "theta", "type": "quantitative", "scale": {"domain": [10.63, 14.02], "nice": false, "zero": false}, "axis": {"values": [11, 11.5, 12, 12.5, 13, 13.5, 14], "tickCount": 100, "format": "d", "labelExpr": "datum.value % 1 === 0 ? datum.label : ''", "tickColor": "#ee2f3c", "tickSize": -4, "labelPadding": 7, "title": "2 Theta (Θ)", "titleFontSize": 14, "titlePadding": 2}},
             "y": {"field": "intensity", "type": "quantitative", "scale": {"domain": [0, 100], "nice": false}, "axis": {"orient": "right", "labels": false, "ticks": false, "title": "Log Intensity", "titleAngle": 90, "titlePadding": 10, "titleFontSize": 13}},
             "color": {"field": "pattern", "type": "nominal", "scale": {"domain": ["Conventional", "SPD"], "range": ["#f7941d", "#2b2f8e"]}, "legend": null}
           }},
          {"data": {"name": "annD"},
           "mark": {"type": "text", "fontSize": 8, "color": "#222"},
           "transform": [{"filter": "datum.mark !== 'δ'"}],
           "encoding": {
             "x": {"field": "theta", "type": "quantitative"},
             "y": {"field": "intensity", "type": "quantitative"},
             "text": {"field": "mark"}
           }},
          {"data": {"name": "annD"},
           "mark": {"type": "text", "fontSize": 17, "color": "#111"},
           "transform": [{"filter": "datum.mark === 'δ'"}],
           "encoding": {
             "x": {"field": "theta", "type": "quantitative"},
             "y": {"field": "intensity", "type": "quantitative"},
             "text": {"field": "mark"}
           }}
        ]
      }
    ], "spacing": 0, "bounds": "flush", "resolve": {"scale": {"color": "independent"}, "legend": {"color": "independent"}}},
    {"hconcat": [
      {
        "width": 244, "height": 190,
        "title": {"text": "e", "dx": -39, "offset": 4, "fontSize": 18},
        "layer": [
          {"data": {"name": "jv"},
           "mark": {"type": "line", "color": "#a3acb0", "strokeWidth": 1},
           "encoding": {
             "x": {"field": "voltage", "type": "quantitative", "scale": {"domain": [0, 1.2], "nice": false}, "axis": {"values": [0, 0.1, 0.2, 0.3, 0.4, 0.5, 0.6, 0.7, 0.8, 0.9, 1.0, 1.1, 1.2], "tickCount": 100, "format": ".1f", "labelExpr": "round(datum.value * 10) % 2 === 0 ? datum.label : ''", "title": "Voltage (V)", "titleFontSize": 14, "tickSize": -4, "labelPadding": 7, "titlePadding": 2}},
             "y": {"field": "current", "type": "quantitative", "scale": {"domain": [0, 30], "nice": false}, "axis": {"values": [0, 2.5, 5, 7.5, 10, 12.5, 15, 17.5, 20, 22.5, 25, 27.5, 30], "tickCount": 100, "format": "d", "labelExpr": "datum.value % 5 === 0 ? datum.label : ''", "title": "Current Density (mA/cm²)", "titleFontSize": 14, "tickSize": -4, "labelPadding": 7, "titlePadding": 3}},
             "detail": {"field": "device"}
           }},
          {"data": {"name": "jv"},
           "transform": [{"filter": "datum.current > 1"}],
           "mark": {"type": "point", "filled": true, "size": 30, "opacity": 1, "stroke": "#1a1a1a", "strokeWidth": 0.7},
           "encoding": {
             "x": {"field": "voltage", "type": "quantitative"},
             "y": {"field": "current", "type": "quantitative"},
             "color": {"field": "device", "type": "nominal", "scale": {"domain": ["SPD Strategy", "Conventional"], "range": ["#1f2270", "#f7941d"]},
               "legend": {"orient": "none", "legendX": 27, "legendY": 152, "title": null, "symbolType": "M-1,0A1,1,0,1,1,1,0A1,1,0,1,1,-1,0ZM-3,0H-1M1,0H3", "symbolSize": 36, "symbolStrokeColor": "#333", "symbolStrokeWidth": 0.8, "symbolOpacity": 1, "labelFontSize": 10.5, "labelOffset": 13, "rowPadding": 5}}
           }},
          {"data": {"values": [{}]},
           "mark": {"type": "rect", "color": "#111111"},
           "encoding": {"x": {"datum": 0.058}, "x2": {"datum": 1.031}, "y": {"datum": 15.3}, "y2": {"datum": 12.16}}},
          {"data": {"values": [{}]},
           "mark": {"type": "rect", "color": "#e4e4e4"},
           "encoding": {"x": {"datum": 0.058}, "x2": {"datum": 1.031}, "y": {"datum": 12.16}, "y2": {"datum": 10.58}}},
          {"data": {"values": [{}]},
           "mark": {"type": "rule", "color": "#8a8a8a", "strokeWidth": 1},
           "encoding": {"x": {"datum": 0.058}, "x2": {"datum": 1.031}, "y": {"datum": 8.75}}},
          {"data": {"values": [{}]},
           "mark": {"type": "text", "fontSize": 6, "color": "#fff", "lineHeight": 8},
           "encoding": {"x": {"datum": 0.443}, "y": {"datum": 13.85}, "text": {"value": ["Jsc", "(mA/cm²)"]}}},
          {"data": {"values": [{}]},
           "mark": {"type": "text", "fontSize": 6, "color": "#fff", "lineHeight": 8},
           "encoding": {"x": {"datum": 0.618}, "y": {"datum": 13.85}, "text": {"value": ["Voc", "(V)"]}}},
          {"data": {"values": [{}]},
           "mark": {"type": "text", "fontSize": 6, "color": "#fff", "lineHeight": 8},
           "encoding": {"x": {"datum": 0.757}, "y": {"datum": 13.85}, "text": {"value": ["FF", "(%)"]}}},
          {"data": {"values": [{}]},
           "mark": {"type": "text", "fontSize": 6, "color": "#fff", "lineHeight": 8},
           "encoding": {"x": {"datum": 0.93}, "y": {"datum": 13.85}, "text": {"value": ["PCE", "(%)"]}}},
          {"data": {"name": "pvTable"}, "transform": [{"filter": "datum.device === 'Conventional'"}],
           "mark": {"type": "text", "fontSize": 6, "color": "#333"},
           "encoding": {"x": {"datum": 0.2}, "y": {"datum": 11.4}, "text": {"field": "device"}}},
          {"data": {"name": "pvTable"}, "transform": [{"filter": "datum.device === 'Conventional'"}],
           "mark": {"type": "text", "fontSize": 6, "color": "#333"},
           "encoding": {"x": {"datum": 0.443}, "y": {"datum": 11.4}, "text": {"field": "Jsc"}}},
          {"data": {"name": "pvTable"}, "transform": [{"filter": "datum.device === 'Conventional'"}],
           "mark": {"type": "text", "fontSize": 6, "color": "#333"},
           "encoding": {"x": {"datum": 0.618}, "y": {"datum": 11.4}, "text": {"field": "Voc"}}},
          {"data": {"name": "pvTable"}, "transform": [{"filter": "datum.device === 'Conventional'"}],
           "mark": {"type": "text", "fontSize": 6, "color": "#333"},
           "encoding": {"x": {"datum": 0.757}, "y": {"datum": 11.4}, "text": {"field": "FF"}}},
          {"data": {"name": "pvTable"}, "transform": [{"filter": "datum.device === 'Conventional'"}],
           "mark": {"type": "text", "fontSize": 6, "color": "#333"},
           "encoding": {"x": {"datum": 0.93}, "y": {"datum": 11.4}, "text": {"field": "PCE"}}},
          {"data": {"name": "pvTable"}, "transform": [{"filter": "datum.device === 'SPD'"}],
           "mark": {"type": "text", "fontSize": 6, "color": "#333"},
           "encoding": {"x": {"datum": 0.2}, "y": {"datum": 9.75}, "text": {"field": "device"}}},
          {"data": {"name": "pvTable"}, "transform": [{"filter": "datum.device === 'SPD'"}],
           "mark": {"type": "text", "fontSize": 6, "color": "#333"},
           "encoding": {"x": {"datum": 0.443}, "y": {"datum": 9.75}, "text": {"field": "Jsc"}}},
          {"data": {"name": "pvTable"}, "transform": [{"filter": "datum.device === 'SPD'"}],
           "mark": {"type": "text", "fontSize": 6, "color": "#333"},
           "encoding": {"x": {"datum": 0.618}, "y": {"datum": 9.75}, "text": {"field": "Voc"}}},
          {"data": {"name": "pvTable"}, "transform": [{"filter": "datum.device === 'SPD'"}],
           "mark": {"type": "text", "fontSize": 6, "color": "#333"},
           "encoding": {"x": {"datum": 0.757}, "y": {"datum": 9.75}, "text": {"field": "FF"}}},
          {"data": {"name": "pvTable"}, "transform": [{"filter": "datum.device === 'SPD'"}],
           "mark": {"type": "text", "fontSize": 6, "color": "#333"},
           "encoding": {"x": {"datum": 0.93}, "y": {"datum": 9.75}, "text": {"field": "PCE"}}}
        ]
      },
      {"width": 55, "height": 10, "view": {"stroke": null}, "data": {"values": []}, "mark": "point"},
      {
        "width": 240, "height": 192,
        "title": {"text": "f", "dx": -33, "offset": 6, "fontSize": 18},
        "data": {"name": "stab"},
        "layer": [
          {"mark": {"type": "line", "color": "#a3acb0", "strokeWidth": 1},
           "encoding": {
             "x": {"field": "time", "type": "quantitative", "scale": {"domain": [-2.3, 22.2], "nice": false, "zero": false}, "axis": {"values": [0, 2.5, 5, 7.5, 10, 12.5, 15, 17.5, 20], "tickCount": 100, "format": "d", "labelExpr": "datum.value % 5 === 0 ? datum.label : ''", "title": "Time (min)", "titleFontSize": 13, "tickSize": -4, "labelPadding": 7, "titlePadding": 2}},
             "y": {"field": "pce", "type": "quantitative", "title": "PCE (%)", "scale": {"domain": [0, 25], "nice": false}, "axis": {"values": [0, 2.5, 5, 7.5, 10, 12.5, 15, 17.5, 20, 22.5, 25], "tickCount": 100, "format": "d", "labelExpr": "datum.value % 5 === 0 ? datum.label : ''", "title": "PCE (%)", "titleFontSize": 13, "tickSize": -4, "labelPadding": 7, "titlePadding": 4}},
             "detail": {"field": "device"}
           }},
          {"mark": {"type": "errorbar", "ticks": {"size": 6}, "color": "#333", "thickness": 1},
           "encoding": {
             "x": {"field": "time", "type": "quantitative", "title": "Time (min)"},
             "y": {"field": "pce", "type": "quantitative", "title": "PCE (%)"},
             "yError": {"field": "err"},
             "detail": {"field": "device"}
           }},
          {"mark": {"type": "point", "filled": true, "size": 42, "opacity": 1, "stroke": "#1a1a1a", "strokeWidth": 0.7},
           "encoding": {
             "x": {"field": "time", "type": "quantitative", "title": "Time (min)"},
             "y": {"field": "pce", "type": "quantitative", "title": "PCE (%)"},
             "color": {"field": "device", "type": "nominal", "scale": {"domain": ["SPD Strategy", "Conventional"], "range": ["#1f2270", "#f7941d"]},
               "legend": {"orient": "none", "legendX": 17, "legendY": 154, "title": null, "symbolType": "M-1,0A1,1,0,1,1,1,0A1,1,0,1,1,-1,0ZM-3,0H-1M1,0H3", "symbolSize": 36, "symbolStrokeColor": "#333", "symbolStrokeWidth": 0.8, "symbolOpacity": 1, "labelFontSize": 10.5, "labelOffset": 13, "rowPadding": 5}}
           }}
        ]
      }
    ], "spacing": 0, "bounds": "flush", "resolve": {"scale": {"color": "independent"}, "legend": {"color": "independent"}}}
  ], "spacing": -8, "resolve": {"scale": {"color": "independent"}, "legend": {"color": "independent"}}}
]
}
